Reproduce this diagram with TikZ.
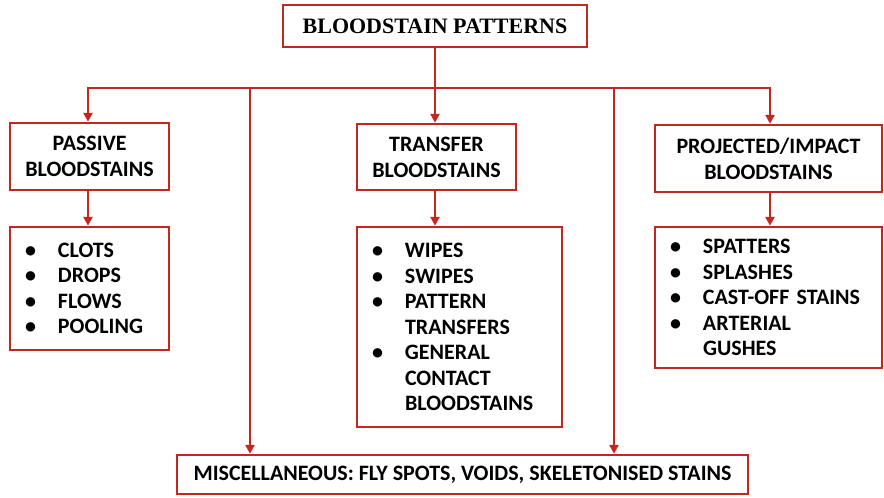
\documentclass[tikz,border=0pt]{standalone}
\usepackage{fontspec}
\setmainfont{Carlito}
\newfontfamily\titleserif{Liberation Serif}
\usetikzlibrary{arrows.meta}
\definecolor{stainred}{HTML}{C3271F}
\newcommand{\blt}[1]{\makebox[33pt][l]{\textbullet}#1}
\newcommand{\bltc}[1]{\hspace*{33pt}#1}

\begin{document}
\begin{tikzpicture}[x=1pt,y=1pt,
    box/.style={draw=stainred,line width=2.4pt,fill=white,align=center,inner sep=0pt,
      font=\fontsize{22}{26}\selectfont\bfseries},
    listbox/.style={box,align=left,inner xsep=15pt,inner ysep=0pt,
      font=\fontsize{22}{25.5}\selectfont\bfseries},
    bus/.style={draw=stainred,line width=2.4pt,line cap=rect},
    arr/.style={draw=stainred,line width=2.4pt,-{Triangle[length=9pt,width=9pt]}}]
  \useasboundingbox (0,0) rectangle (884,-498);

  \node[box,minimum width=304pt,minimum height=42pt,
    font=\titleserif\bfseries\fontsize{22}{26}\selectfont] (bp) at (435,-26) {BLOODSTAIN PATTERNS};

  % branch line
  \coordinate (hub) at (435,-88);
  \coordinate (b1) at (88,-88);
  \coordinate (b2) at (250,-88);
  \coordinate (b3) at (614,-88);
  \coordinate (b4) at (770,-88);

  \node[box,minimum width=159pt,minimum height=67pt] (passive) at (89.5,-156.5) {PASSIVE\\BLOODSTAINS};
  \node[box,minimum width=159pt,minimum height=66pt] (transfer) at (436.5,-157) {TRANSFER\\BLOODSTAINS};
  \node[box,minimum width=227pt,minimum height=67pt] (impact) at (768.5,-158.5) {PROJECTED/IMPACT\\BLOODSTAINS};

  \node[listbox,text width=129pt,minimum height=123pt] (plist) at (89.5,-288.5)
    {\blt{CLOTS}\\\blt{DROPS}\\\blt{FLOWS}\\\blt{POOLING}};
  \node[listbox,text width=175pt,minimum height=200pt] (tlist) at (459.5,-327)
    {\blt{WIPES}\\\blt{SWIPES}\\\blt{PATTERN}\\\bltc{TRANSFERS}\\\blt{GENERAL}\\\bltc{CONTACT}\\\bltc{BLOODSTAINS}};
  \node[listbox,text width=197pt,minimum height=141pt] (ilist) at (768.5,-297.5)
    {\blt{SPATTERS}\\\blt{SPLASHES}\\\blt{CAST-OFF STAINS}\\\blt{ARTERIAL}\\\bltc{GUSHES}};

  \node[box,minimum width=571pt,minimum height=39pt] (misc) at (462.5,-474.5)
    {MISCELLANEOUS: FLY SPOTS, VOIDS, SKELETONISED STAINS};

  \draw[bus] (bp.south) -- (hub);
  \draw[bus] (b1) -- (b4);
  \draw[arr] (b1) -- (b1 |- passive.north);
  \draw[arr] (hub) -- (hub |- transfer.north);
  \draw[arr] (b4) -- (b4 |- impact.north);
  \draw[arr] (b2) -- (b2 |- misc.north);
  \draw[arr] (b3) -- (b3 |- misc.north);

  \draw[arr] (b1 |- passive.south) -- (b1 |- plist.north);
  \draw[arr] (hub |- transfer.south) -- (hub |- tlist.north);
  \draw[arr] (b4 |- impact.south) -- (b4 |- ilist.north);
\end{tikzpicture}
\end{document}
